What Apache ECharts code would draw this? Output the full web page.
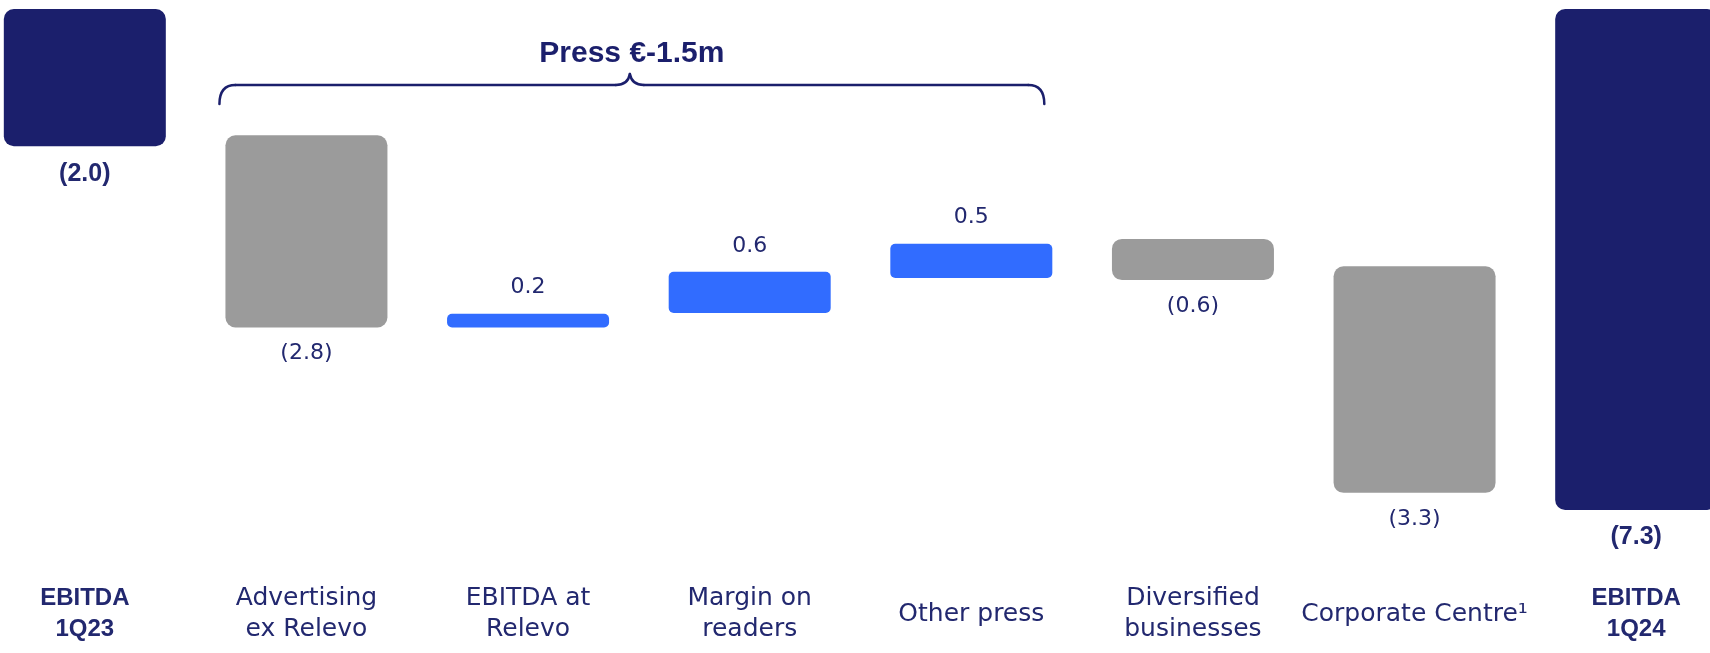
<!DOCTYPE html>
<html>
<head>
<meta charset="utf-8">
<script src="https://cdn.jsdelivr.net/npm/echarts@6/dist/echarts.min.js"></script>
<style>
  html, body { margin: 0; padding: 0; background: #ffffff; overflow: hidden; width: 1710px; height: 653px; }
  #wrap { position: relative; width: 1710px; height: 653px; overflow: hidden; }
  #chart { position: absolute; left: -26px; top: 0; width: 1773px; height: 653px; }
</style>
</head>
<body>
<div id="wrap"><div id="chart"></div></div>
<script>
// ---- Data (€ million) ----
const categories = ['EBITDA\n1Q23', 'Advertising\nex Relevo', 'EBITDA at\nRelevo', 'Margin on\nreaders', 'Other press', 'Diversified\nbusinesses', 'Corporate Centre\u00b9', 'EBITDA\n1Q24'];
const changes = [-2.0, -2.8, 0.2, 0.6, 0.5, -0.6, -3.3, -7.3];
const barBase = [0, -1.84, -4.64, -4.43, -3.92, -3.35, -3.75, 0];
const valueLabels = ['(2.0)', '(2.8)', '0.2', '0.6', '0.5', '(0.6)', '(3.3)', '(7.3)'];
const barKinds = ['total', 'down', 'up', 'up', 'up', 'down', 'down', 'total'];
const bracketTitle = 'Press \u20ac-1.5m';
const bracketFrom = 1;   // first category under the brace
const bracketTo = 4;     // last category under the brace

// ---- Styles ----
const NAVY = '#1b1f6c';
const TEXT = '#22286f';
const BLUE = '#316cff';
const GREY = '#9b9b9b';
const FONT = '"DejaVu Sans", sans-serif';
const BOLDFONT = '"Liberation Sans", Arial, sans-serif';
const BAR_W = 162;

const kindColor = { total: NAVY, down: GREY, up: BLUE };

const chart = echarts.init(document.getElementById('chart'), null, { renderer: 'canvas' });

const mainData = changes.map((v, i) => {
  const kind = barKinds[i];
  const isTotal = kind === 'total';
  return {
    value: v,
    itemStyle: {
      color: kindColor[kind],
      borderRadius: kind === 'up' ? 5 : 10
    },
    label: {
      position: v < 0 ? 'bottom' : 'top',
      fontWeight: isTotal ? 'bold' : 'normal',
      fontFamily: isTotal ? BOLDFONT : FONT,
      fontSize: isTotal ? 25 : 22
    }
  };
});

chart.setOption({
  animation: false,
  backgroundColor: '#ffffff',
  grid: { left: 0, right: 0, top: 9, bottom: 143, containLabel: false },
  xAxis: {
    type: 'category',
    data: categories,
    axisLine: { show: false },
    axisTick: { show: false },
    splitLine: { show: false },
    axisLabel: {
      interval: 0,
      margin: 104,
      verticalAlign: 'middle',
      align: 'center',
      color: TEXT,
      fontFamily: FONT,
      fontSize: 25,
      lineHeight: 31,
      formatter: function (value, idx) {
        if (barKinds[idx] === 'total') {
          return value.split('\n').map(s => '{b|' + s + '}').join('\n');
        }
        return value;
      },
      rich: {
        b: { fontFamily: BOLDFONT, fontWeight: 'bold', fontSize: 24, lineHeight: 31, color: TEXT }
      }
    }
  },
  yAxis: {
    type: 'value',
    min: -7.3,
    max: 0,
    show: false,
    splitLine: { show: false }
  },
  series: [
    {
      type: 'bar',
      stack: 'waterfall',
      stackStrategy: 'all',
      barWidth: BAR_W,
      silent: true,
      itemStyle: { color: 'rgba(0,0,0,0)' },
      data: barBase
    },
    {
      type: 'bar',
      stack: 'waterfall',
      stackStrategy: 'all',
      barWidth: BAR_W,
      data: mainData,
      label: {
        show: true,
        distance: 15,
        color: TEXT,
        fontFamily: FONT,
        fontSize: 22,
        formatter: p => valueLabels[p.dataIndex]
      }
    }
  ]
});

// ---- Brace annotation above the press categories ----
const x1 = chart.convertToPixel({ xAxisIndex: 0 }, bracketFrom);
const x2 = chart.convertToPixel({ xAxisIndex: 0 }, bracketTo);
const L = x1 - BAR_W / 2 - 6;
const R = x2 + BAR_W / 2 - 8;
const C = (L + R) / 2;
const M = C - 2;
const yLine = 85, yEnd = 104, yPeak = 74, r = 16;
const braceStyle = { stroke: NAVY, lineWidth: 2.5, fill: null, lineCap: 'round' };

function curve(xa, ya, xb, yb, cx, cy) {
  return { type: 'bezierCurve', silent: true,
    shape: { x1: xa, y1: ya, x2: xb, y2: yb, cpx1: cx, cpy1: cy },
    style: braceStyle };
}
function seg(xa, ya, xb, yb) {
  return { type: 'line', silent: true,
    shape: { x1: xa, y1: ya, x2: xb, y2: yb },
    style: braceStyle };
}

chart.setOption({
  graphic: [
    curve(L, yEnd, L + r, yLine, L, yLine),
    seg(L + r, yLine, M - 14, yLine),
    curve(M - 14, yLine, M, yPeak, M - 2, yLine),
    curve(M, yPeak, M + 14, yLine, M + 2, yLine),
    seg(M + 14, yLine, R - r, yLine),
    curve(R - r, yLine, R, yEnd, R, yLine),
    {
      type: 'text',
      x: C,
      y: 54,
      silent: true,
      style: {
        text: bracketTitle,
        fill: NAVY,
        font: 'bold 30px "Liberation Sans", Arial, sans-serif',
        textAlign: 'center',
        textVerticalAlign: 'middle'
      }
    }
  ]
});
</script>
</body>
</html>
